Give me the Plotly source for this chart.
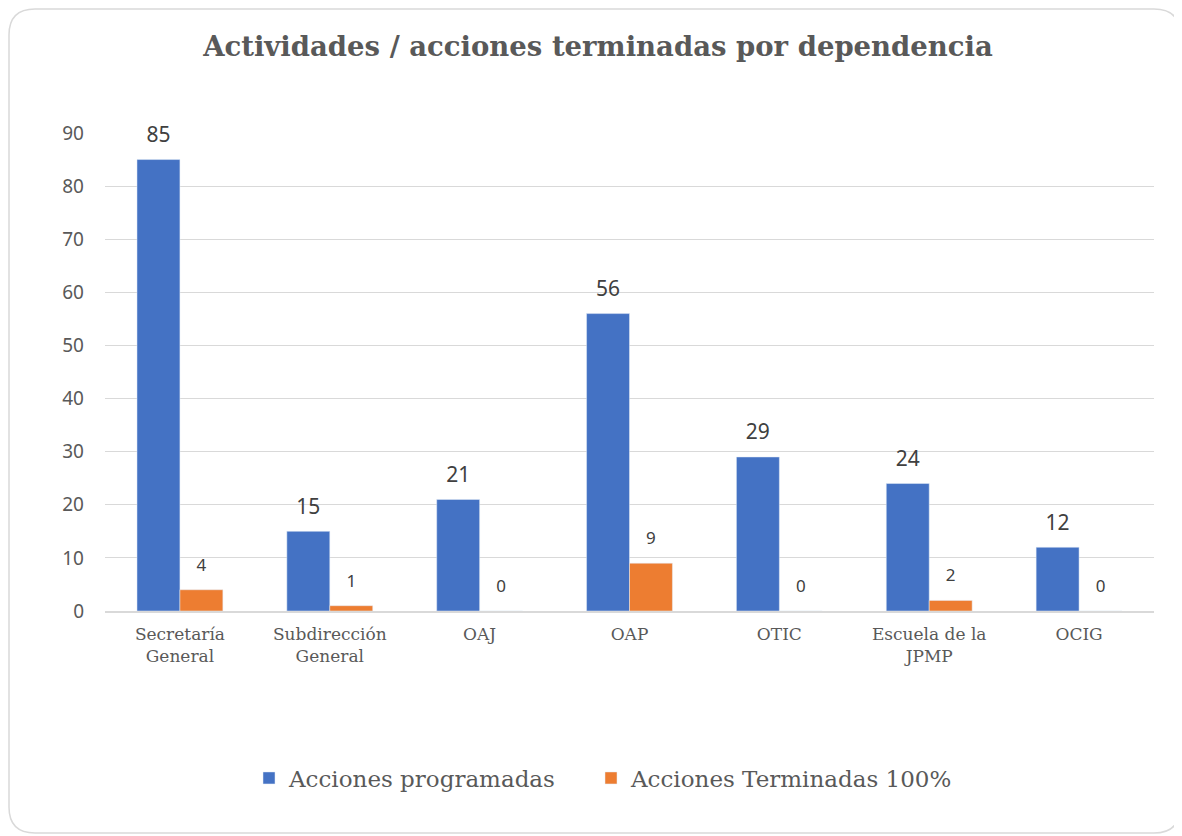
import plotly.graph_objects as go

categories = ["Secretaría<br>General", "Subdirección<br>General", "OAJ", "OAP", "OTIC", "Escuela de la<br>JPMP", "OCIG"]
programadas = [85, 15, 21, 56, 29, 24, 12]
terminadas = [4, 1, 0, 9, 0, 2, 0]
y_ticks = [0, 10, 20, 30, 40, 50, 60, 70, 80, 90]

# page body has an 8px margin, so figure coords = screen coords - 8
W, H = 1174, 828
L, R, T, B = 97, 28, 125, 225
pw, ph = W - L - R, H - T - B
GAP = 0.427

fig = go.Figure()
fig.add_trace(go.Bar(
    x=categories, y=programadas, name="Acciones programadas",
    marker_color="#4472C4", offsetgroup="a", hoverinfo="x+y", legend="legend",
))
fig.add_trace(go.Bar(
    x=categories, y=terminadas, name="Acciones Terminadas 100%",
    marker_color="#ED7D31", offsetgroup="b", hoverinfo="x+y", legend="legend2",
))
fig.add_trace(go.Scatter(
    x=categories, y=programadas, mode="markers+text", text=programadas,
    textposition="top center", offsetgroup="a", showlegend=False,
    marker=dict(size=18, color="rgba(0,0,0,0)"), hoverinfo="skip",
    textfont=dict(family="Noto Sans", size=21, color="#404040"), cliponaxis=False,
))
fig.add_trace(go.Scatter(
    x=categories, y=terminadas, mode="markers+text", text=terminadas,
    textposition="top center", offsetgroup="b", showlegend=False,
    marker=dict(size=22, color="rgba(0,0,0,0)"), hoverinfo="skip",
    textfont=dict(family="Noto Sans", size=17, color="#404040"), cliponaxis=False,
))

def P(x, y):
    return f"{(x - L) / pw:.5f},{(H - B - y) / ph:.5f}"

x0, y0, x1, y1, r = 1, 1, 1172, 825, 26
path = (f"M {P(x0 + r, y0)} L {P(x1 - r, y0)} Q {P(x1, y0)} {P(x1, y0 + r)} "
        f"L {P(x1, y1 - r)} Q {P(x1, y1)} {P(x1 - r, y1)} L {P(x0 + r, y1)} "
        f"Q {P(x0, y1)} {P(x0, y1 - r)} L {P(x0, y0 + r)} Q {P(x0, y0)} {P(x0 + r, y0)} Z")

legend_font = dict(family="DejaVu Serif", size=23, color="#595959")
legend_y = (H - B - 770) / ph

fig.update_layout(
    width=W, height=H,
    margin=dict(l=L, r=R, t=T, b=B),
    paper_bgcolor="white", plot_bgcolor="white",
    barmode="group", bargap=GAP, bargroupgap=0,
    scattermode="group", scattergap=GAP,
    title=dict(text="<b>Actividades / acciones terminadas por dependencia</b>",
               x=590 / W, xanchor="center", y=1 - 38 / H, yanchor="middle",
               yref="container",
               font=dict(family="DejaVu Serif", size=27.5, color="#595959")),
    xaxis=dict(showline=True, linecolor="#d9d9d9", linewidth=1.5, ticks="",
               ticklabelstandoff=7,
               tickfont=dict(family="DejaVu Serif", size=17, color="#595959")),
    yaxis=dict(range=[0, 90], tickvals=y_ticks, showgrid=True, gridcolor="#d9d9d9",
               zeroline=False, showline=False, ticks="", ticklabelstandoff=20,
               tickfont=dict(family="Noto Sans", size=19, color="#595959")),
    legend=dict(orientation="h", x=144 / pw, xanchor="left", y=legend_y,
                yanchor="middle", font=legend_font),
    legend2=dict(orientation="h", x=486 / pw, xanchor="left", y=legend_y,
                 yanchor="middle", font=legend_font),
    shapes=[dict(type="path", xref="paper", yref="paper", path=path,
                 line=dict(color="#d9d9d9", width=1.5), layer="below")],
)

fig.write_html("out.html")
